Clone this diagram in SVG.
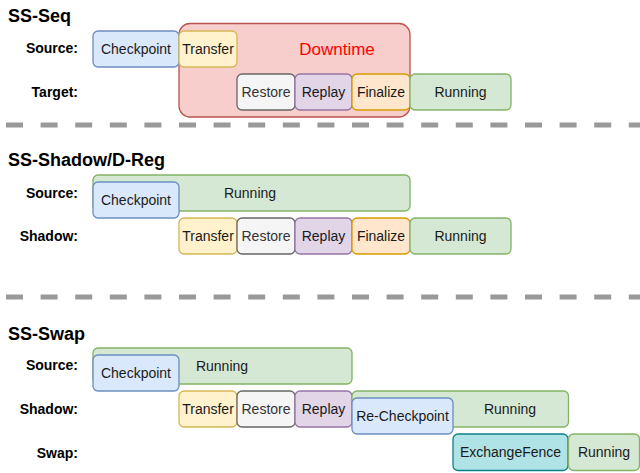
<svg xmlns="http://www.w3.org/2000/svg" width="640" height="473" viewBox="0 0 640 473">
<style>
text{font-family:"Liberation Sans",Arial,sans-serif;font-size:14px;fill:#1a1a1a}
.t{font-size:18px;font-weight:bold;fill:#000}
.l{font-weight:bold;fill:#000;text-anchor:end}
.c{text-anchor:middle}
rect{stroke-width:1.3}
.cp{fill:#dae8fc;stroke:#6c8ebf}
.tr{fill:#fff2cc;stroke:#d6b656}
.rs{fill:#f5f5f5;stroke:#666666}
.rp{fill:#e1d5e7;stroke:#9673a6}
.fn{fill:#ffe6cc;stroke:#d79b00}
.rn{fill:#d5e8d4;stroke:#82b366}
.ex{fill:#b0e3e6;stroke:#0e8088}
.dt{fill:#f8cecc;stroke:#b85450}
.sep{stroke:#999999;stroke-width:5;stroke-dasharray:17 17.6;fill:none}
</style>
<g id="seps">
<line class="sep" x1="6" y1="125" x2="640" y2="125"/>
<line class="sep" x1="6" y1="297" x2="640" y2="297"/>
</g>
<g id="sec1">
<text class="t" x="8" y="22">SS-Seq</text>
<text class="l" x="78" y="53">Source:</text>
<text class="l" x="78" y="97">Target:</text>
<g id="s1-down"><rect class="dt" x="179" y="23.5" width="231" height="93.5" rx="11"/><text class="c" x="337" y="55" style="font-size:17px;fill:#ff0000">Downtime</text></g>
<g id="s1-cp"><rect class="cp" x="93" y="31" width="86" height="36" rx="5"/><text class="c" x="136" y="54">Checkpoint</text></g>
<g id="s1-tr"><rect class="tr" x="179" y="31" width="58" height="36" rx="5"/><text class="c" x="208" y="54">Transfer</text></g>
<g id="s1-rs"><rect class="rs" x="237" y="74" width="58" height="36" rx="5"/><text class="c" x="266" y="97" style="fill:#333">Restore</text></g>
<g id="s1-rp"><rect class="rp" x="295" y="74" width="57" height="36" rx="5"/><text class="c" x="323.5" y="97">Replay</text></g>
<g id="s1-fn"><rect class="fn" x="352" y="74" width="58" height="36" rx="5"/><text class="c" x="381" y="97">Finalize</text></g>
<g id="s1-rn"><rect class="rn" x="410" y="74" width="101" height="36" rx="5"/><text class="c" x="460.5" y="97">Running</text></g>
</g>
<g id="sec2">
<text class="t" x="8" y="166">SS-Shadow/D-Reg</text>
<text class="l" x="78" y="198">Source:</text>
<text class="l" x="78" y="241">Shadow:</text>
<g id="s2-rn1"><rect class="rn" x="93" y="175" width="317" height="36" rx="5"/><text class="c" x="250" y="198">Running</text></g>
<g id="s2-cp"><rect class="cp" x="93" y="182" width="86" height="36" rx="5"/><text class="c" x="136" y="205">Checkpoint</text></g>
<g id="s2-tr"><rect class="tr" x="179" y="218" width="58" height="36" rx="5"/><text class="c" x="208" y="241">Transfer</text></g>
<g id="s2-rs"><rect class="rs" x="237" y="218" width="58" height="36" rx="5"/><text class="c" x="266" y="241" style="fill:#333">Restore</text></g>
<g id="s2-rp"><rect class="rp" x="295" y="218" width="57" height="36" rx="5"/><text class="c" x="323.5" y="241">Replay</text></g>
<g id="s2-fn"><rect class="fn" x="352" y="218" width="58" height="36" rx="5"/><text class="c" x="381" y="241">Finalize</text></g>
<g id="s2-rn2"><rect class="rn" x="410" y="218" width="101" height="36" rx="5"/><text class="c" x="460.5" y="241">Running</text></g>
</g>
<g id="sec3">
<text class="t" x="8" y="340">SS-Swap</text>
<text class="l" x="78" y="370">Source:</text>
<text class="l" x="78" y="414">Shadow:</text>
<text class="l" x="78" y="458">Swap:</text>
<g id="s3-rn1"><rect class="rn" x="93" y="348" width="259" height="36" rx="5"/><text class="c" x="222" y="371">Running</text></g>
<g id="s3-cp"><rect class="cp" x="93" y="355" width="86" height="36" rx="5"/><text class="c" x="136" y="378">Checkpoint</text></g>
<g id="s3-tr"><rect class="tr" x="179" y="391" width="58" height="36" rx="5"/><text class="c" x="208" y="414">Transfer</text></g>
<g id="s3-rs"><rect class="rs" x="237" y="391" width="58" height="36" rx="5"/><text class="c" x="266" y="414" style="fill:#333">Restore</text></g>
<g id="s3-rp"><rect class="rp" x="295" y="391" width="57" height="36" rx="5"/><text class="c" x="323.5" y="414">Replay</text></g>
<g id="s3-rn2"><rect class="rn" x="352" y="391" width="216.5" height="36" rx="5"/><text class="c" x="510" y="414">Running</text></g>
<g id="s3-rcp"><rect class="cp" x="352" y="398" width="101" height="36" rx="5"/><text class="c" x="402.5" y="421">Re-Checkpoint</text></g>
<g id="s3-ex"><rect class="ex" x="453" y="434" width="115" height="36.5" rx="5"/><text class="c" x="510.5" y="457">ExchangeFence</text></g>
<g id="s3-rn3"><rect class="rn" x="568.5" y="434" width="71" height="36.5" rx="5"/><text class="c" x="604" y="457">Running</text></g>
</g>
</svg>
